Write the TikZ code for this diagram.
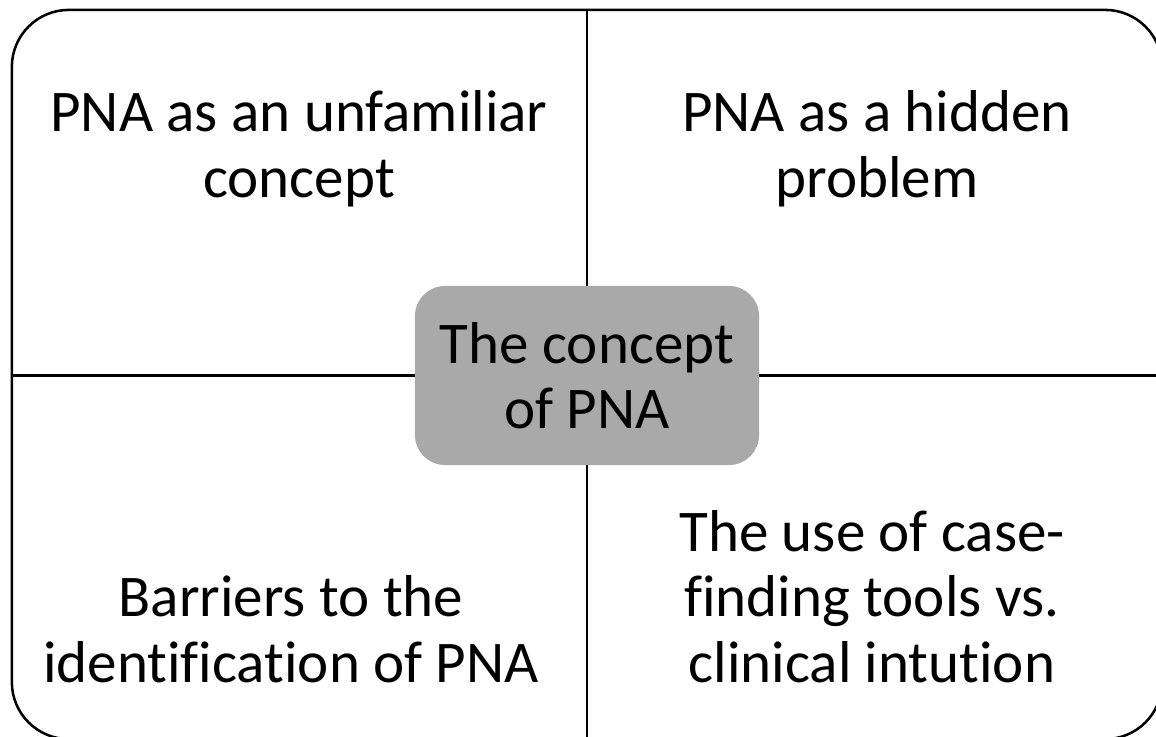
\documentclass[tikz,border=0pt]{standalone}
\usepackage{fontspec}
\setmainfont{Carlito}[Ligatures=NoCommon]
\definecolor{hubgray}{RGB}{169,169,169}

\begin{document}
\begin{tikzpicture}[
            x=0.025cm,
            y=-0.025cm,
            frame/.style={
                rectangle,
                draw,
                line width=1.8pt,
                rounded corners=1.425cm,
                minimum width=28.75cm,
                minimum height=18.225cm,
                inner sep=0pt
            },
            hub/.style={
                rectangle,
                fill=hubgray,
                rounded corners=0.75cm,
                minimum width=8.6cm,
                minimum height=4.475cm,
                inner sep=0pt,
                align=center,
                font=\fontsize{42}{46.5}\selectfont
            },
            theme/.style={
                align=center,
                anchor=base,
                inner sep=0pt,
                font=\fontsize{42}{46.5}\selectfont
            },
            divider/.style={line width=2pt}
        ]

            \clip (0, 0) rectangle (1156, 736);

            \node[frame] (box) at (587, 374.5) {};
            \node[hub] (c) at (587, 375.5) {The concept\\of PNA};

            % anchor base sits on the last line
            \node[theme] (q1) at (299, 197) {PNA as an unfamiliar\\concept};
            \node[theme] (q2) at (877, 197) {PNA as a hidden\\problem};
            \node[theme] (q3) at (291, 682) {Barriers to the\\identification of PNA};
            \node[theme] (q4) at (872, 682) {The use of case-\\finding tools vs.\\clinical intution};

            \draw[divider] (c.north) -- (c.north |- box.north);
            \draw[divider] (c.south) -- (c.south |- box.south);
            \draw[divider] (c.west) -- (c.west -| box.west);
            \draw[divider] (c.east) -- (c.east -| box.east);

        \end{tikzpicture}
\end{document}
